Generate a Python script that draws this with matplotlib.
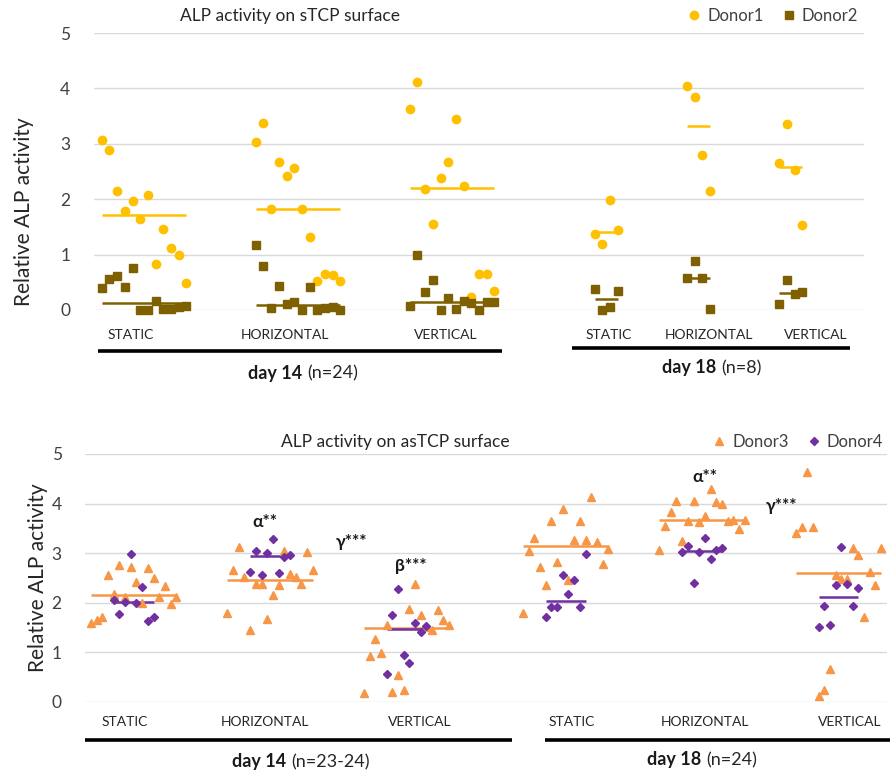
import numpy as np
import matplotlib
matplotlib.use("Agg")
import matplotlib.pyplot as plt
from matplotlib.lines import Line2D

plt.rcParams['font.family'] = ['Lato', 'DejaVu Sans']

W, H = 894, 776

conditions = ["STATIC", "HORIZONTAL", "VERTICAL"]

# ---------------- top panel: sTCP surface ----------------
d1_d14_static = [3.07, 2.88, 2.15, 1.79, 1.97, 1.64, 2.08, 0.83, 1.46, 1.12, 0.99, 0.48]
d1_d14_horizontal = [3.04, 3.37, 1.82, 2.67, 2.42, 2.56, 1.82, 1.32, 0.53, 0.65, 0.63, 0.52]
d1_d14_vertical = [3.62, 4.12, 2.18, 1.56, 2.38, 2.67, 3.45, 2.24, 0.24, 0.65, 0.65, 0.34]
d1_d18_static = [1.38, 1.19, 1.99, 1.45]
d1_d18_horizontal = [4.04, 3.85, 2.79, 2.14]
d1_d18_vertical = [2.65, 3.36, 2.53, 1.54]

d2_d14_static = [0.40, 0.56, 0.61, 0.41, 0.76, 0.00, 0.00, 0.17, 0.02, 0.02, 0.05, 0.07]
d2_d14_horizontal = [1.17, 0.79, 0.03, 0.44, 0.11, 0.15, 0.00, 0.41, 0.00, 0.03, 0.06, 0.00]
d2_d14_vertical = [0.07, 0.99, 0.32, 0.54, 0.00, 0.21, 0.01, 0.16, 0.12, 0.00, 0.14, 0.14]
d2_d18_static = [0.38, 0.00, 0.06, 0.34]
d2_d18_horizontal = [0.58, 0.88, 0.57, 0.02]
d2_d18_vertical = [0.10, 0.54, 0.29, 0.33]

# ---------------- bottom panel: asTCP surface ----------------
d3_d14_static = [1.60, 1.66, 1.72, 2.56, 2.18, 2.76, 2.12, 2.73, 2.41, 2.00, 2.71, 2.51, 2.11, 2.34, 1.97, 2.11]
d3_d14_horizontal = [1.80, 2.67, 3.12, 2.53, 1.45, 2.38, 2.38, 1.67, 2.15, 2.36, 3.05, 2.59, 2.53, 2.38, 3.03, 2.67]
d3_d14_vertical = [0.19, 0.93, 1.28, 0.98, 1.55, 0.21, 0.54, 0.24, 1.87, 2.38, 1.75, 1.52, 1.45, 1.85, 1.65, 1.55]
d3_d18_static = [1.80, 3.05, 3.30, 2.73, 2.35, 3.64, 2.82, 3.89, 2.45, 3.27, 3.64, 3.27, 4.14, 3.23, 2.78, 3.08]
d3_d18_horizontal = [3.06, 3.55, 3.84, 4.05, 3.25, 3.64, 4.05, 3.62, 3.74, 4.29, 4.04, 4.00, 3.64, 3.67, 3.48, 3.67]
d3_d18_vertical = [3.40, 3.52, 4.63, 3.52, 0.12, 0.24, 0.66, 2.56, 2.47, 2.47, 3.10, 2.96, 1.71, 2.63, 2.35, 3.10]

d4_d14_static = [2.06, 1.77, 2.02, 2.98, 2.00, 2.32, 1.63, 1.72]
d4_d14_horizontal = [2.63, 3.05, 2.56, 3.00, 3.29, 2.61, 2.93, 2.96]
d4_d14_vertical = [0.56, 1.75, 2.27, 0.95, 0.78, 1.60, 1.42, 1.53]
d4_d18_static = [1.72, 1.91, 1.91, 2.57, 2.18, 2.45, 1.91, 2.98]
d4_d18_horizontal = [3.03, 3.15, 2.39, 3.03, 3.30, 2.88, 3.06, 3.10]
d4_d18_vertical = [1.51, 1.94, 1.55, 2.35, 3.13, 2.37, 1.94, 2.29]

top_title = "ALP activity on sTCP surface"
bot_title = "ALP activity on asTCP surface"
ylabel = "Relative ALP activity"
yticks = [0, 1, 2, 3, 4, 5]

C1, C2 = "#FFC000", "#7F6000"
C3, C4 = "#F79646", "#7030A0"
GRID = "#D9D9D9"
TICKC = "#404040"

fig = plt.figure(figsize=(W / 100, H / 100), dpi=100)


def fx(px):
    return px / W


def fy(py):
    return 1 - py / H


def style_axes(ax, xmax):
    ax.set_ylim(0, 5)
    ax.set_xlim(0, xmax)
    ax.set_yticks(yticks)
    ax.set_xticks([])
    for s in ax.spines.values():
        s.set_visible(False)
    ax.grid(axis='y', color=GRID, lw=1.0)
    ax.set_axisbelow(True)
    ax.tick_params(axis='y', length=0, pad=17, labelsize=12.5, labelcolor=TICKC)


def plot_group(ax, start, vals, color, marker, ms, offset=0):
    vals = np.asarray(vals)
    x = start + offset + np.arange(len(vals))
    med = np.median(vals)
    ax.plot([x[0], x[-1]], [med, med], color=color, lw=1.8, zorder=2, solid_capstyle='butt')
    ax.plot(x, vals, ls='none', marker=marker, ms=ms, color=color, mec=color,
            zorder=3, clip_on=False)


# ---------- top axes ----------
ax1 = fig.add_axes([fx(94), fy(310), fx(864) - fx(94), fy(33) - fy(310)])
style_axes(ax1, 100)
top_starts = [1, 21, 41, 65, 77, 89]
top_d1 = [d1_d14_static, d1_d14_horizontal, d1_d14_vertical, d1_d18_static, d1_d18_horizontal, d1_d18_vertical]
top_d2 = [d2_d14_static, d2_d14_horizontal, d2_d14_vertical, d2_d18_static, d2_d18_horizontal, d2_d18_vertical]
for st, a, b in zip(top_starts, top_d1, top_d2):
    plot_group(ax1, st, a, C1, 'o', 6)
    plot_group(ax1, st, b, C2, 's', 5.5)

h1 = Line2D([], [], ls='none', marker='o', ms=6, color=C1)
h2 = Line2D([], [], ls='none', marker='s', ms=5.5, color=C2)
ax1.legend([h1, h2], ["Donor1", "Donor2"], loc='center', bbox_to_anchor=(fx(772), fy(16)),
           bbox_transform=fig.transFigure, ncol=2, frameon=False, fontsize=12,
           handletextpad=0.3, columnspacing=1.0, handlelength=1.0, labelcolor=TICKC)
fig.text(fx(290), fy(16), top_title, ha='center', va='center', fontsize=12.5, color="#262626")
fig.text(fx(24), fy(212), ylabel, ha='center', va='center', rotation=90, fontsize=15, color="#262626")

# ---------- bottom axes ----------
ax2 = fig.add_axes([fx(85.3), fy(702), fx(886.8) - fx(85.3), fy(454) - fy(702)])
style_axes(ax2, 141)
bot_starts = [1, 25, 49, 77, 101, 125]
bot_d3 = [d3_d14_static, d3_d14_horizontal, d3_d14_vertical, d3_d18_static, d3_d18_horizontal, d3_d18_vertical]
bot_d4 = [d4_d14_static, d4_d14_horizontal, d4_d14_vertical, d4_d18_static, d4_d18_horizontal, d4_d18_vertical]
for st, a, b in zip(bot_starts, bot_d3, bot_d4):
    plot_group(ax2, st, a, C3, '^', 5.5)
    plot_group(ax2, st, b, C4, 'D', 4.3, offset=4)

h3 = Line2D([], [], ls='none', marker='^', ms=5.5, color=C3)
h4 = Line2D([], [], ls='none', marker='D', ms=4.3, color=C4)
ax2.legend([h3, h4], ["Donor3", "Donor4"], loc='center', bbox_to_anchor=(fx(797), fy(442)),
           bbox_transform=fig.transFigure, ncol=2, frameon=False, fontsize=12,
           handletextpad=0.3, columnspacing=1.0, handlelength=1.0, labelcolor=TICKC)
fig.text(fx(395), fy(442), bot_title, ha='center', va='center', fontsize=12.5, color="#262626")
fig.text(fx(38), fy(578), ylabel, ha='center', va='center', rotation=90, fontsize=15, color="#262626")

# significance marks
ann = dict(ha='center', va='center', fontsize=12.5, fontweight='bold', color="#1a1a1a")
fig.text(fx(265), fy(522), "α**", **ann)
fig.text(fx(352), fy(542), "γ***", **ann)
fig.text(fx(411), fy(566), "β***", **ann)
fig.text(fx(705), fy(477), "α**", **ann)
fig.text(fx(782), fy(506), "γ***", **ann)

# ---------- category labels, brackets, day labels ----------
lab = dict(ha='center', va='center', fontsize=10, color="#262626")
for x, t in zip([131, 285, 446, 609, 709, 816], conditions * 2):
    fig.text(fx(x), fy(335), t, **lab)
for x, t in zip([125, 265, 420, 572, 705, 850], conditions * 2):
    fig.text(fx(x), fy(722), t, **lab)

for (x0, x1, y) in [(98, 502, 351.5), (572, 850, 347.5), (85, 512, 740), (545, 890, 740)]:
    fig.add_artist(Line2D([fx(x0), fx(x1)], [fy(y), fy(y)], transform=fig.transFigure,
                          color='black', lw=2.6, solid_capstyle='butt'))

daylab = [(307, 373, "day 14", "(n=24)"), (721, 368, "day 18", "(n=8)"),
          (291, 762, "day 14", "(n=23-24)"), (706, 760, "day 18", "(n=24)")]
for x, y, b, n in daylab:
    fig.text(fx(x), fy(y), b + " ", ha='right', va='center', fontsize=13, fontweight='bold', color="#1a1a1a")
    fig.text(fx(x), fy(y), n, ha='left', va='center', fontsize=13, color="#262626")

fig.savefig("out.png", dpi=100)
